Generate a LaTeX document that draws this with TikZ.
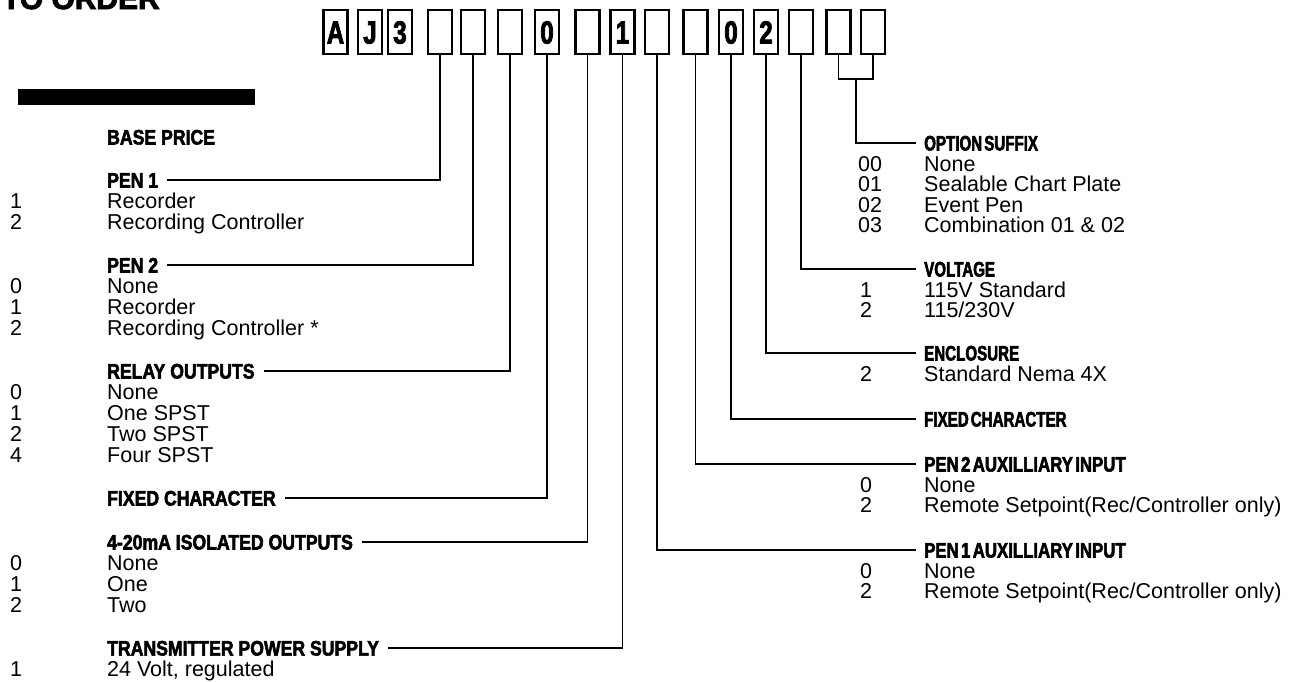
\documentclass[tikz,border=0pt]{standalone}
\usepackage{fontspec}
\setmainfont{Liberation Sans}
\newfontfamily\hdfont[FakeStretch=0.84,BoldFeatures={FakeStretch=0.84,FakeBold=2.5}]{Liberation Sans}
\newfontfamily\hdrfont[FakeStretch=0.72,WordSpace=0.5,BoldFeatures={FakeStretch=0.72,FakeBold=2.5}]{Liberation Sans}
\newfontfamily\hdrwfont[FakeStretch=0.8,WordSpace=0.5,BoldFeatures={FakeStretch=0.8,FakeBold=2.5}]{Liberation Sans}
\newfontfamily\boxfont[FakeStretch=0.75,BoldFeatures={FakeStretch=0.75,FakeBold=2.5}]{Liberation Sans}
\newfontfamily\ttlfont[BoldFeatures={FakeBold=3}]{Liberation Sans}
\begin{document}
\begin{tikzpicture}[x=1pt,y=-1pt,line join=miter]
\tikzset{
  txt/.style={anchor=base west, inner sep=0pt, font=\fontsize{21.5}{21.5}\selectfont},
  hd/.style={anchor=base west, inner sep=0pt, font=\fontsize{21}{21}\selectfont\hdfont\bfseries},
  hdr/.style={anchor=base west, inner sep=0pt, font=\fontsize{21}{21}\selectfont\hdrfont\bfseries},
  hdrw/.style={anchor=base west, inner sep=0pt, font=\fontsize{21}{21}\selectfont\hdrwfont\bfseries},
  conn/.style={line width=1.8pt},
  codebox/.style={draw, line width=2.2pt, minimum width=24pt, minimum height=44pt, inner sep=0pt},
  boxchar/.style={anchor=base, inner sep=0pt, font=\fontsize{32}{32}\selectfont\boxfont\bfseries},
}
\useasboundingbox (0,0) rectangle (1297,681);
\fill[white] (0,0) rectangle (1297,681);

% title (cropped) and bar
\node[anchor=base east, inner sep=0pt, font=\fontsize{30}{30}\selectfont\ttlfont\bfseries] (title) at (160,9) {TO ORDER};
\fill (18,89) rectangle (255,105);

% code boxes
\foreach \n/\x in {1/335.5, 2/370, 3/400, 4/440, 5/473, 6/510, 7/547, 8/587.5, 9/622.5,
  10/657, 11/695.5, 12/731, 13/766, 14/801, 15/838.5, 16/873}
  \node[codebox] (b\n) at (\x,32) {};
\foreach \n/\t in {1/A, 2/J, 3/3, 7/0, 9/1, 12/0, 13/2}
  \node[boxchar] (c\n) at ([yshift=-11.5pt]b\n.center) {\t};

% left column
\node[hd] (hbase) at (107,144.5) {BASE PRICE};

\node[hd] (hp1) at (107,187.5) {PEN 1};
\node[txt] (p1a) at (10,208.5) {1}; \node[txt] (p1at) at (107,208.5) {Recorder};
\node[txt] (p1b) at (10,229.5) {2}; \node[txt] (p1bt) at (107,229.5) {Recording Controller};

\node[hd] (hp2) at (107,272.5) {PEN 2};
\node[txt] (p2a) at (10,293.5) {0}; \node[txt] (p2at) at (107,293.5) {None};
\node[txt] (p2b) at (10,314.5) {1}; \node[txt] (p2bt) at (107,314.5) {Recorder};
\node[txt] (p2c) at (10,335.5) {2}; \node[txt] (p2ct) at (107,335.5) {Recording Controller *};

\node[hd] (hrel) at (107,378.5) {RELAY OUTPUTS};
\node[txt] (r0) at (10,399.5) {0}; \node[txt] (r0t) at (107,399.5) {None};
\node[txt] (r1) at (10,420.5) {1}; \node[txt] (r1t) at (107,420.5) {One SPST};
\node[txt] (r2) at (10,441.5) {2}; \node[txt] (r2t) at (107,441.5) {Two SPST};
\node[txt] (r4) at (10,462.5) {4}; \node[txt] (r4t) at (107,462.5) {Four SPST};

\node[hd] (hfixl) at (107,505.5) {FIXED CHARACTER};

\node[hd] (hiso) at (107,549.5) {4-20mA ISOLATED OUTPUTS};
\node[txt] (i0) at (10,570.5) {0}; \node[txt] (i0t) at (107,570.5) {None};
\node[txt] (i1) at (10,591.5) {1}; \node[txt] (i1t) at (107,591.5) {One};
\node[txt] (i2) at (10,612.5) {2}; \node[txt] (i2t) at (107,612.5) {Two};

\node[hd] (htps) at (107,655.5) {TRANSMITTER POWER SUPPLY};
\node[txt] (t1) at (10,676.5) {1}; \node[txt] (t1t) at (107,676.5) {24 Volt, regulated};

% right column
\node[hdr] (hopt) at (924,150.5) {OPTION SUFFIX};
\node[txt] (o0) at (858,171) {00}; \node[txt] (o0t) at (924,171) {None};
\node[txt] (o1) at (858,191.5) {01}; \node[txt] (o1t) at (924,191.5) {Sealable Chart Plate};
\node[txt] (o2) at (858,212) {02}; \node[txt] (o2t) at (924,212) {Event Pen};
\node[txt] (o3) at (858,232.5) {03}; \node[txt] (o3t) at (924,232.5) {Combination 01 \& 02};

\node[hdr] (hvolt) at (924,276.5) {VOLTAGE};
\node[txt] (v1) at (860,297) {1}; \node[txt] (v1t) at (924,297) {115V Standard};
\node[txt] (v2) at (860,317.5) {2}; \node[txt] (v2t) at (924,317.5) {115/230V};

\node[hdr] (hencl) at (924,360.5) {ENCLOSURE};
\node[txt] (e2) at (860,381) {2}; \node[txt] (e2t) at (924,381) {Standard Nema 4X};

\node[hdr] (hfixr) at (924,426.5) {FIXED CHARACTER};

\node[hdrw] (haux2) at (924,471.5) {PEN 2 AUXILLIARY INPUT};
\node[txt] (a20) at (860,492) {0}; \node[txt] (a20t) at (924,492) {None};
\node[txt] (a22) at (860,512.5) {2}; \node[txt] (a22t) at (924,512.5) {Remote Setpoint(Rec/Controller only)};

\node[hdrw] (haux1) at (924,557.5) {PEN 1 AUXILLIARY INPUT};
\node[txt] (a10) at (860,578) {0}; \node[txt] (a10t) at (924,578) {None};
\node[txt] (a12) at (860,598.5) {2}; \node[txt] (a12t) at (924,598.5) {Remote Setpoint(Rec/Controller only)};

% left connectors
\draw[conn] ([xshift=9pt]hp1.east) -| (b4.south);
\draw[conn] ([xshift=9pt]hp2.east) -| (b5.south);
\draw[conn] ([xshift=9pt]hrel.east) -| (b6.south);
\draw[conn] ([xshift=9pt]hfixl.east) -| (b7.south);
\draw[conn] ([xshift=9pt]hiso.east) -| (b8.south);
\draw[conn] ([xshift=9pt]htps.east) -| (b9.south);

% right connectors
\coordinate (br) at (856,79);
\draw[conn] (b15.south) |- (br) -| (b16.south);
\draw[conn] (br) |- ([xshift=-8pt]hopt.west);
\draw[conn] (b14.south) |- ([xshift=-8pt]hvolt.west);
\draw[conn] (b13.south) |- ([xshift=-8pt]hencl.west);
\draw[conn] (b12.south) |- ([xshift=-8pt]hfixr.west);
\draw[conn] (b11.south) |- ([xshift=-8pt]haux2.west);
\draw[conn] (b10.south) |- ([xshift=-8pt]haux1.west);
\end{tikzpicture}
\end{document}
